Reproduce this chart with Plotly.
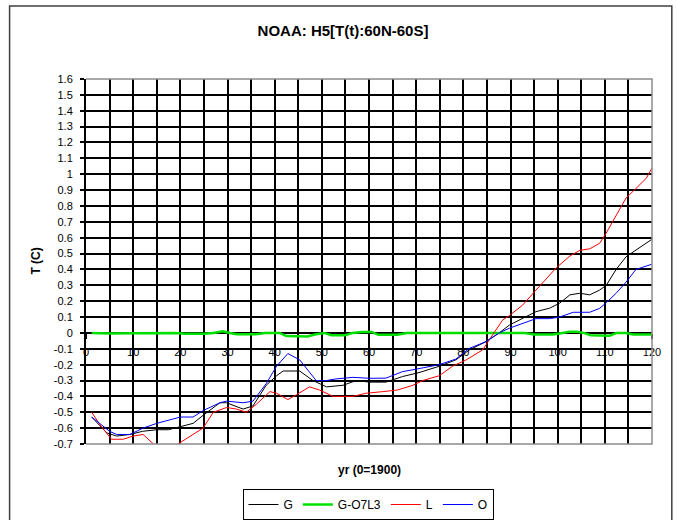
import plotly.graph_objects as go

# ---- data ----
g_x = [1.2, 4.4, 6.5, 9.3, 12, 15, 17.5, 20, 22.7, 24.8, 28.4, 29.8, 33.3, 35.4, 38.2, 40.4, 41.8, 45.3,
       48.1, 51, 54.5, 57.3, 60.1, 63.6, 67.1, 70.6, 74.9, 78.4, 81.3, 84.8, 87.6, 89.8, 93.3, 95.4,
       98.3, 100.4, 102.6, 104.7, 106.8, 108.9, 110.3, 112.4, 114.5, 116.6, 118.8, 120]
g_y = [-0.53, -0.63, -0.65, -0.64, -0.62, -0.61, -0.61, -0.59, -0.57, -0.52, -0.44, -0.44, -0.48, -0.46,
       -0.33, -0.27, -0.24, -0.24, -0.30, -0.34, -0.33, -0.30, -0.31, -0.31, -0.275, -0.25, -0.21, -0.17,
       -0.107, -0.055, 0.0, 0.05, 0.10, 0.134, 0.156, 0.187, 0.24, 0.25, 0.24, 0.27, 0.30, 0.40, 0.48,
       0.52, 0.565, 0.59]

gol_x = [1.2, 5, 10, 15, 19, 21, 25, 27, 29, 30.5, 32, 36, 38, 41, 42.5, 47, 48.5, 50.5, 52, 55, 56.5,
         58.5, 60.5, 62, 66, 68, 70, 75, 80, 85, 90, 93, 95, 99, 101, 102.5, 104, 105.5, 107, 111, 112.5,
         114.5, 116, 120]
gol_y = [0.0, -0.003, -0.002, 0.0, 0.0, -0.005, -0.005, 0.0, 0.01, 0.0, -0.008, -0.008, 0.0, 0.0,
         -0.02, -0.022, -0.01, 0.0, -0.015, -0.015, 0.0, 0.006, 0.006, -0.012, -0.012, 0.0, 0.0, 0.0,
         0.0, 0.0, 0.0, 0.0, -0.01, -0.01, 0.0, 0.008, 0.008, 0.0, -0.015, -0.018, 0.0, 0.0, -0.01, -0.01]

l_x = [1.2, 3, 5.4, 7.9, 10, 12.1, 14.3, 15.5, 17, 18.5, 19.5, 22.7, 24.8, 27, 29.8, 31.9, 34, 36.1, 39,
       40.4, 42.8, 44.6, 47.4, 49.5, 52.4, 56.6, 59.4, 62.9, 66, 69.3, 71.4, 74.9, 77.7, 80.6, 84.1,
       85.5, 88.3, 89.8, 92.6, 94.8, 97.6, 99.7, 102.6, 104.7, 106.8, 108.9, 110.3, 112.4, 114.5,
       116.6, 118.8, 120]
l_y = [-0.5, -0.58, -0.67, -0.67, -0.65, -0.64, -0.70, -0.74, -0.76, -0.74, -0.70, -0.64, -0.60, -0.50,
       -0.47, -0.48, -0.50, -0.45, -0.37, -0.38, -0.42, -0.39, -0.34, -0.36, -0.40, -0.40, -0.38, -0.37,
       -0.36, -0.33, -0.30, -0.27, -0.21, -0.17, -0.107, -0.044, 0.08, 0.11, 0.176, 0.25, 0.345, 0.41,
       0.485, 0.52, 0.53, 0.565, 0.63, 0.74, 0.85, 0.91, 0.975, 1.04]

o_x = [1.2, 5, 6.5, 9.3, 12.1, 15, 20, 22.7, 24.8, 28.4, 29.8, 33.3, 35.4, 38.2, 40.4, 42.8, 45.3, 48.8,
       51, 53, 56.6, 60.1, 63.6, 67.1, 70.6, 74.9, 78.4, 81.3, 84.8, 87.6, 89.8, 93.3, 95.4, 98.3,
       100.4, 103.3, 106.8, 108.9, 110.3, 112.4, 114.5, 116.6, 118.8, 120]
o_y = [-0.53, -0.62, -0.64, -0.64, -0.60, -0.57, -0.53, -0.53, -0.49, -0.44, -0.43, -0.44, -0.43, -0.32,
       -0.21, -0.13, -0.17, -0.30, -0.30, -0.29, -0.28, -0.286, -0.285, -0.244, -0.225, -0.20, -0.165,
       -0.097, -0.055, 0.0, 0.03, 0.07, 0.09, 0.09, 0.10, 0.13, 0.13, 0.155, 0.19, 0.25, 0.32, 0.40,
       0.42, 0.433]

y_tickvals = [1.6, 1.5, 1.4, 1.3, 1.2, 1.1, 1.0, 0.9, 0.8, 0.7, 0.6, 0.5, 0.4, 0.3, 0.2, 0.1, 0.0,
              -0.1, -0.2, -0.3, -0.4, -0.5, -0.6, -0.7]
y_ticktext = ["1.6", "1.5", "1.4", "1.3", "1.2", "1.1", "1", "0.9", "0.8", "0.7", "0.6", "0.5", "0.4",
              "0.3", "0.2", "0.1", "0", "-0.1", "-0.2", "-0.3", "-0.4", "-0.5", "-0.6", "-0.7"]
x_tickvals = [0, 10, 20, 30, 40, 50, 60, 70, 80, 90, 100, 110, 120]

TITLE = "NOAA: H5[T(t):60N-60S]"
X_TITLE = "yr (0=1900)"
Y_TITLE = "T (C)"

FONT = "Arial, Liberation Sans, sans-serif"
Y_MIN, Y_MAX = -0.7, 1.6
W, H = 677, 520

fig = go.Figure()
fig.add_trace(go.Scatter(x=g_x, y=g_y, name="G", mode="lines", line=dict(color="#000000", width=1)))
fig.add_trace(go.Scatter(x=gol_x, y=gol_y, name="G-O7L3", mode="lines",
                         line=dict(color="#00e000", width=2.5)))
fig.add_trace(go.Scatter(x=l_x, y=l_y, name="L", mode="lines", line=dict(color="#ff0000", width=1)))
fig.add_trace(go.Scatter(x=o_x, y=o_y, name="O", mode="lines", line=dict(color="#0000ff", width=1)))

zero_pos = (0 - Y_MIN) / (Y_MAX - Y_MIN)

fig.update_layout(
    width=W, height=H,
    margin=dict(l=86, r=25, t=79, b=76, autoexpand=False),
    paper_bgcolor="white", plot_bgcolor="white",
    font=dict(family=FONT, size=11, color="black"),
    hovermode=False,
    title=dict(text=TITLE, x=343 / W, xref="container", xanchor="center", y=1 - 31 / H, yanchor="middle",
               font=dict(family=FONT, size=15, color="black", weight="bold"), automargin=False),
    showlegend=True,
    legend=dict(orientation="h", xref="container", yref="container", x=368 / W, xanchor="center",
                y=1 - 489 / H, yanchor="top",
                bordercolor="black", borderwidth=1, font=dict(size=12), itemwidth=30,
                tracegroupgap=0),
    xaxis=dict(range=[0, 120], tickvals=x_tickvals, showgrid=True, gridcolor="black", gridwidth=1.5,
               minor=dict(dtick=5, showgrid=True, gridcolor="black", gridwidth=1.5, ticks=""),
               showline=True, linecolor="black", linewidth=2, ticks="outside", ticklen=5,
               tickcolor="black", tickwidth=1.5, anchor="free", position=zero_pos,
               zeroline=False, layer="below traces", tickfont=dict(size=11), automargin=False,
               ticklabelstandoff=4, fixedrange=True),
    yaxis=dict(range=[Y_MIN, Y_MAX], tickvals=y_tickvals, ticktext=y_ticktext, showgrid=True,
               gridcolor="black", gridwidth=1.5, showline=True, linecolor="black", linewidth=2,
               ticks="outside", ticklen=4, tickcolor="black", tickwidth=1.5, zeroline=False,
               domain=[0, 1], tickfont=dict(size=11), automargin=False, ticklabelstandoff=5,
               fixedrange=True),
    annotations=[
        dict(text="<b>" + X_TITLE + "</b>", xref="paper", yref="paper", x=0.5, y=-0.07,
             xanchor="center", yanchor="middle", showarrow=False, font=dict(size=12)),
        dict(text="<b>" + Y_TITLE + "</b>", xref="paper", yref="paper", x=-0.09, y=0.5,
             xanchor="center", yanchor="middle", textangle=-90, showarrow=False, font=dict(size=12)),
    ],
    shapes=[
        dict(type="path", xref="paper", yref="paper", path="M 0,1 L 1,1 L 1,0 L 0,0",
             line=dict(color="#8c8c8c", width=1.5), layer="above"),
        dict(type="rect", xref="paper", yref="paper", x0=-0.135, x1=1.035, y0=-0.25, y1=1.2,
             line=dict(color="#404040", width=1.5), layer="above"),
    ],
)

fig.write_html("out.html", config={"displayModeBar": False},
               post_script="document.body.style.margin='0';")
